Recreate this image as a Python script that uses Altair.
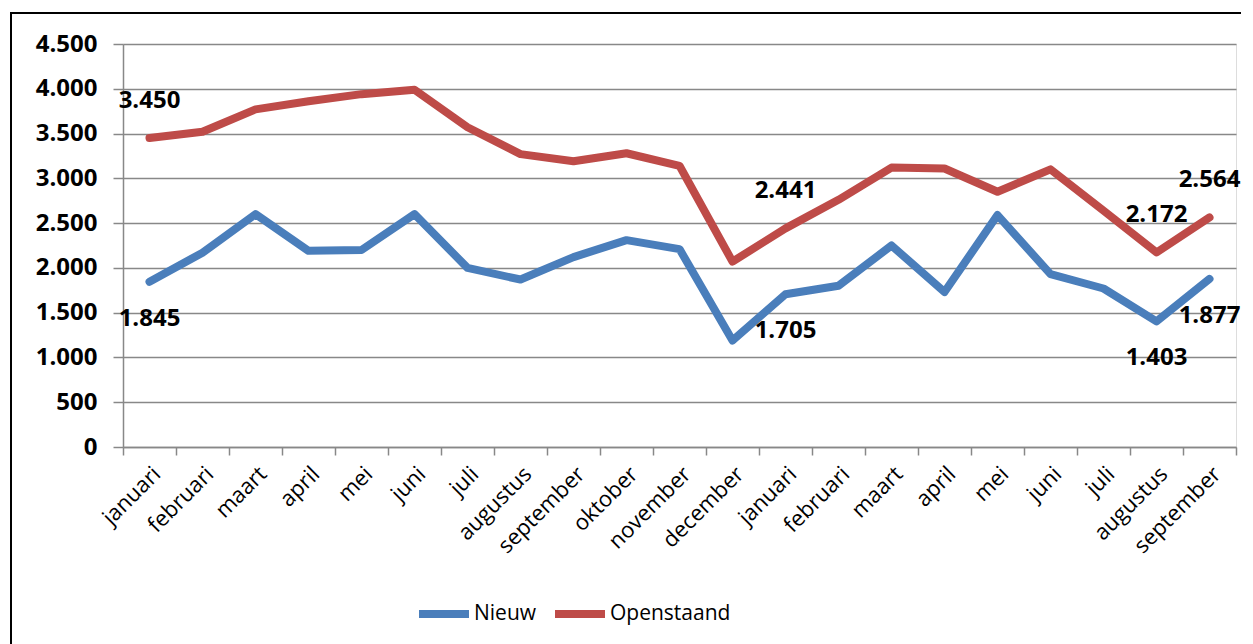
import json
import altair as alt
import pandas as pd

months = ["januari", "februari", "maart", "april", "mei", "juni", "juli", "augustus",
          "september", "oktober", "november", "december",
          "januari", "februari", "maart", "april", "mei", "juni", "juli", "augustus",
          "september"]

nieuw = [1845, 2170, 2600, 2190, 2200, 2600, 2000, 1870, 2120, 2310, 2210, 1190,
         1705, 1800, 2250, 1730, 2590, 1930, 1770, 1403, 1877]
openstaand = [3450, 3520, 3770, 3860, 3940, 3990, 3570, 3270, 3190, 3280, 3140, 2070,
              2441, 2760, 3120, 3110, 2850, 3100, 2640, 2172, 2564]

# indices of points that carry a data label
labelled = [0, 12, 19, 20]

series_names = ["Nieuw", "Openstaand"]
series_colors = ["#4a7ebb", "#be4b48"]


def fmt(v):
    return f"{v:,}".replace(",", ".")


rows = []
for name, vals in zip(series_names, [nieuw, openstaand]):
    for i, v in enumerate(vals):
        rows.append({"idx": i, "series": name, "value": v,
                     "label": fmt(v) if i in labelled else ""})
df = pd.DataFrame(rows)

FONT = "Open Sans"
label_expr = json.dumps(months) + "[datum.value]"

x_enc = alt.X("idx:O",
              scale=alt.Scale(type="band", paddingInner=0, paddingOuter=0),
              axis=alt.Axis(title=None, labelExpr=label_expr, labelAngle=-45,
                            labelFontSize=22, labelFont=FONT, labelColor="#000000",
                            tickBand="extent", tickSize=8, tickColor="#888888",
                            domainColor="#888888", domainWidth=1.5, tickWidth=1.5,
                            labelPadding=8, grid=False))
y_enc = alt.Y("value:Q",
              scale=alt.Scale(domain=[0, 4500], nice=False),
              axis=alt.Axis(title=None, values=list(range(0, 4501, 500)),
                            labelExpr="replace(format(datum.value, ','), ',', '.')",
                            labelFontSize=24, labelFontWeight="bold", labelFont=FONT,
                            labelColor="#000000", labelPadding=16,
                            tickSize=10, tickColor="#888888", tickWidth=1.5,
                            domainColor="#888888", domainWidth=1.5,
                            gridColor="#888888", gridWidth=1.5))
color_enc = alt.Color("series:N",
                      scale=alt.Scale(domain=series_names, range=series_colors),
                      legend=alt.Legend(title=None, orient="none", direction="horizontal",
                                        legendX=292, legendY=541,
                                        symbolType="stroke", symbolSize=2500,
                                        symbolStrokeWidth=8, labelFontSize=21,
                                        labelFont=FONT, labelColor="#000000",
                                        labelOffset=1, columnPadding=2))

base = alt.Chart(df)

lines = base.mark_line(strokeWidth=8, strokeCap="round", strokeJoin="round").encode(
    x=x_enc, y=y_enc, color=color_enc)

lab_common = dict(fontSize=24, fontWeight="bold", font=FONT, color="#000000",
                  align="center", baseline="middle")
labels_top = base.transform_filter(
    "datum.label != '' && datum.series == 'Openstaand'").mark_text(dy=-37, **lab_common).encode(
    x="idx:O", y="value:Q", text="label:N")
labels_bot = base.transform_filter(
    "datum.label != '' && datum.series == 'Nieuw'").mark_text(dy=37, **lab_common).encode(
    x="idx:O", y="value:Q", text="label:N")

frame = alt.Chart(alt.Data(values=[{"a": 1}])).mark_rect(
    fill=None, stroke="#000000", strokeWidth=2, clip=False).encode(
    x=alt.value(-112), x2=alt.value(1300), y=alt.value(-31), y2=alt.value(800))

chart = alt.layer(frame, lines, labels_top, labels_bot).properties(
    width=1113, height=403,
    autosize=alt.AutoSizeParams(type="none"),
    padding={"left": 115, "top": 36, "right": 5, "bottom": 197},
).configure_view(stroke=None).configure(background="#ffffff")

chart.save("out.html", embed_options={"renderer": "svg", "actions": False})
